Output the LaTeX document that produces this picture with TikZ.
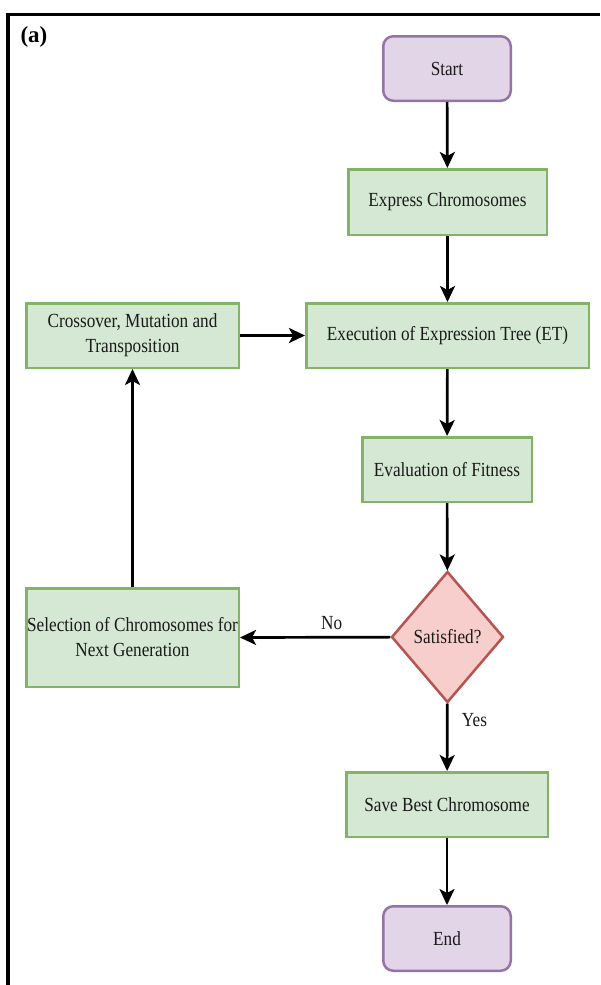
\documentclass[tikz,border=0pt]{standalone}
\usepackage{fontspec}
\setmainfont{Liberation Serif}[FakeStretch=0.86]
\newfontfamily\labelfont{Liberation Serif}
\usetikzlibrary{shapes.geometric,arrows.meta}
\definecolor{gfill}{HTML}{D5E8D4}
\definecolor{gdraw}{HTML}{82B366}
\definecolor{pfill}{HTML}{E1D5E7}
\definecolor{pdraw}{HTML}{9673A6}
\definecolor{rfill}{HTML}{F8CECC}
\definecolor{rdraw}{HTML}{B85450}
\definecolor{txt}{HTML}{1A1A1A}
\tikzset{
  every node/.style={font=\fontsize{20}{25}\selectfont, text=txt},
  procbox/.style={rectangle, draw=gdraw, fill=gfill, line width=2.5pt, inner sep=0pt, align=center},
  termbox/.style={rectangle, rounded corners=10pt, draw=pdraw, fill=pfill, line width=2.5pt, inner sep=0pt, minimum width=127.5pt, minimum height=64.5pt},
  decbox/.style={diamond, draw=rdraw, fill=rfill, line width=2.5pt, inner sep=0pt, minimum width=112pt, minimum height=131pt},
  flow/.style={line width=2.7pt, -{Stealth[length=16pt,width=15pt,inset=4pt]}},
  lbl/.style={font=\fontsize{20}{25}\selectfont}
}
\begin{document}
\begin{tikzpicture}[x=1pt,y=-1pt]
\useasboundingbox (0,0) rectangle (600,985);
% frame
\draw[line width=3.5pt] (8,985) -- (8,14.3) -- (600,14.3);
\node[font=\labelfont\fontsize{23}{26}\selectfont\bfseries, text=black] (lab) at (34,37) {(a)};
% nodes
\node[termbox] (start) at (447,68.5) {Start};
\node[procbox, minimum width=198.5pt, minimum height=65.5pt] (expr) at (447.5,202) {Express Chromosomes};
\node[procbox, minimum width=282.5pt, minimum height=64.5pt] (exec) at (447.5,335.5) {Execution of Expression Tree (ET)};
\node[procbox, minimum width=212.5pt, minimum height=64.5pt] (cross) at (132.5,335.5) {Crossover, Mutation and\\Transposition};
\node[procbox, minimum width=169.5pt, minimum height=64.5pt] (eval) at (447,469.5) {Evaluation of Fitness};
\node[decbox] (sat) at (447.5,637) {Satisfied?};
\node[procbox, minimum width=212.5pt, minimum height=98.5pt] (sel) at (132.5,637.5) {Selection of Chromosomes for\\Next Generation};
\node[procbox, minimum width=201.5pt, minimum height=64.5pt] (save) at (447,804.5) {Save Best Chromosome};
\node[termbox] (end) at (447,938.5) {End};
% connectors
\draw[flow] (start) -- (expr);
\draw[flow] (expr) -- (exec);
\draw[flow] (exec) -- (eval);
\draw[flow] (eval) -- (sat);
\draw[flow] (sat) -- node[lbl, pos=0.25, right=10pt] (yes) {Yes} (save);
\draw[flow] (save) -- (end);
\draw[flow] (sat) -- node[lbl, above=3pt, pos=0.39] (no) {No} (sel.east);
\draw[flow] (sel) -- (cross);
\draw[flow] (cross) -- (exec);
\end{tikzpicture}
\end{document}
